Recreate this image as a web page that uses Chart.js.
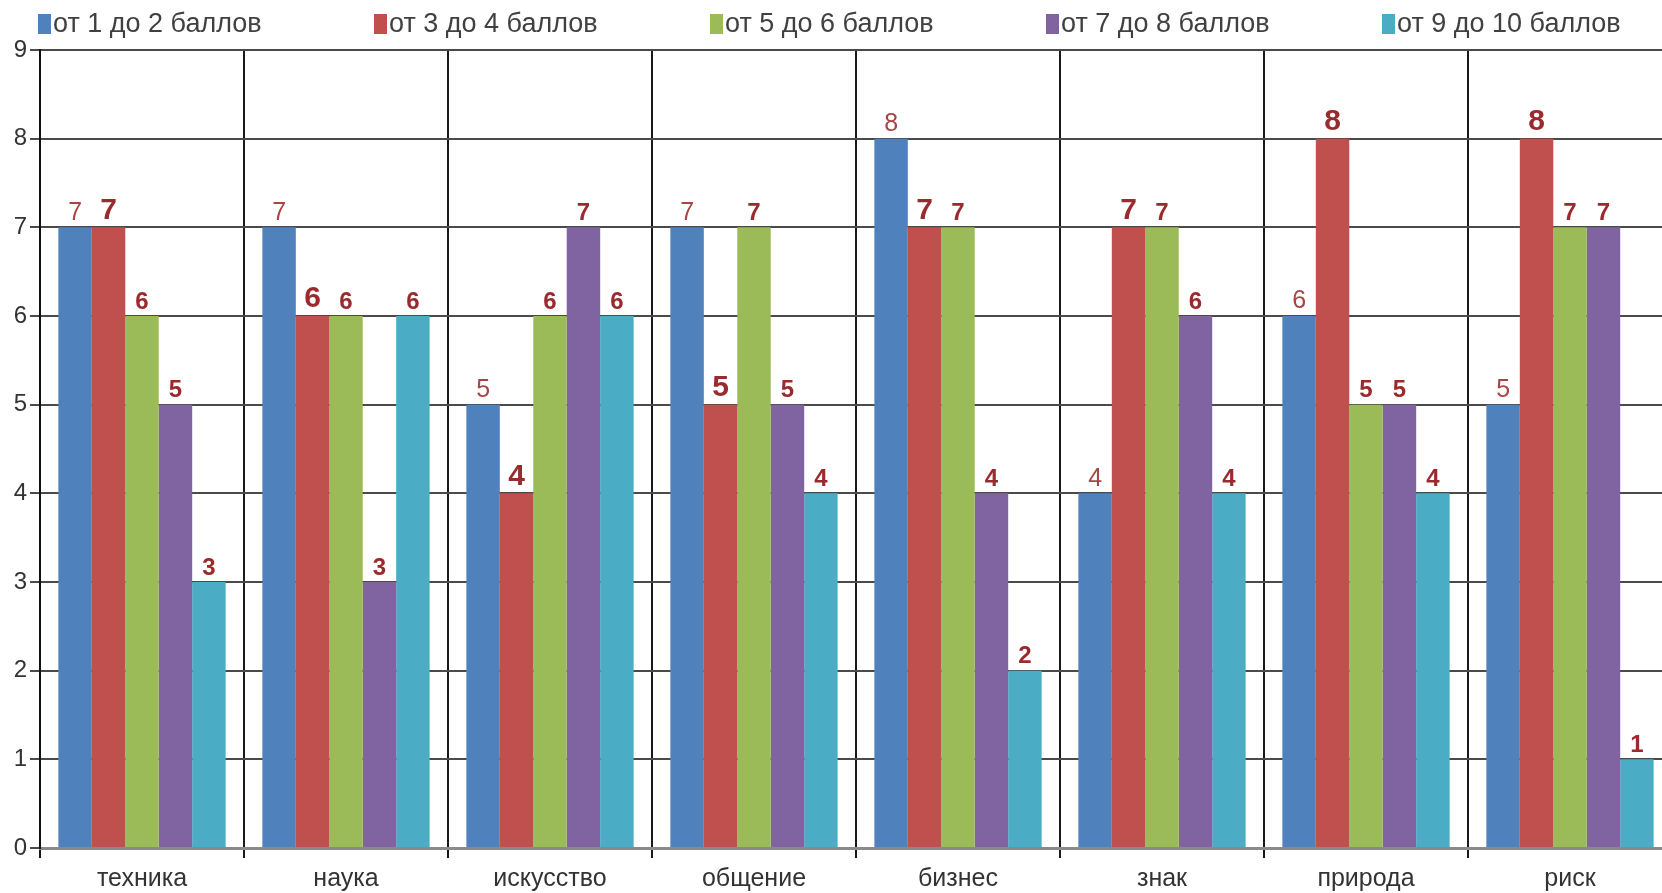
<!DOCTYPE html>
<html><head><meta charset="utf-8">
<script src="https://cdn.jsdelivr.net/npm/chart.js@4.4.1/dist/chart.umd.min.js"></script>
<style>
html,body{margin:0;padding:0;background:#fff;overflow:hidden;width:1662px;height:893px}
#wrap{position:absolute;left:0;top:0;width:1680px;height:893px}
</style></head>
<body><div id="wrap"><canvas id="c"></canvas></div>
<script>
const categories = ['техника','наука','искусство','общение','бизнес','знак','природа','риск'];
const seriesNames = ['от 1 до 2 баллов','от 3 до 4 баллов','от 5 до 6 баллов','от 7 до 8 баллов','от 9 до 10 баллов'];
const s1 = [7,7,5,7,8,4,6,5];
const s2 = [7,6,4,5,7,7,8,8];
const s3 = [6,6,6,7,7,7,5,7];
const s4 = [5,3,7,5,4,6,5,7];
const s5 = [3,6,6,4,2,4,4,1];
const yMin = 0, yMax = 9, yStep = 1;
const seriesColors = ['#4F81BD','#C0504D','#9BBB59','#8064A2','#4BACC6'];
const labelFonts = [
  {weight:'normal', size:25},
  {weight:'bold', size:30},
  {weight:'bold', size:24},
  {weight:'bold', size:24},
  {weight:'bold', size:24}
];
const FONT = "'Liberation Sans', Arial, sans-serif";

const valueLabels = {
  id:'valueLabels',
  afterDatasetsDraw(chart){
    const ctx = chart.ctx;
    ctx.save();
    ctx.textAlign='center';
    ctx.textBaseline='bottom';
    chart.data.datasets.forEach((ds,di)=>{
      const meta = chart.getDatasetMeta(di);
      const f = labelFonts[di];
      ctx.font = f.weight+' '+f.size+'px '+FONT;
      ctx.fillStyle = di===0 ? '#a84545' : '#9a2a2e';
      meta.data.forEach((bar,i)=>{
        ctx.fillText(String(ds.data[i]), bar.x, bar.y-2);
      });
    });
    ctx.restore();
  }
};

const customLegend = {
  id:'customLegend',
  afterDraw(chart){
    const ctx = chart.ctx;
    ctx.save();
    const step = chart.width/5;
    ctx.font = '27px '+FONT;
    ctx.textBaseline='middle';
    ctx.textAlign='left';
    chart.data.datasets.forEach((ds,i)=>{
      const x = 38 + i*step;
      ctx.fillStyle = ds.backgroundColor;
      ctx.fillRect(x, 14, 13, 20);
      ctx.fillStyle = '#404040';
      ctx.fillText(ds.label, x+15, 25);
    });
    ctx.restore();
  }
};

const datasets = [s1,s2,s3,s4,s5].map((d,i)=>({
  label: seriesNames[i],
  data: d,
  backgroundColor: seriesColors[i],
  borderWidth: 0,
  categoryPercentage: 0.82,
  barPercentage: 1.0
}));

new Chart(document.getElementById('c'), {
  type:'bar',
  data:{labels:categories, datasets},
  plugins:[valueLabels, customLegend],
  options:{
    responsive:true,
    maintainAspectRatio:false,
    animation:false,
    layout:{padding:{top:50,right:8,left:0,bottom:0}},
    plugins:{legend:{display:false}, tooltip:{enabled:false}},
    scales:{
      x:{
        offset:true,
        grid:{offset:true, color:'#1a1a1a', lineWidth:2, tickLength:10},
        border:{display:true, color:'#8a8a8a', width:3},
        ticks:{font:{size:25, family:FONT}, color:'#333', padding:6, maxRotation:0},
        afterFit(s){ s.height = 45; }
      },
      y:{
        min:yMin, max:yMax,
        grid:{color:'#4a4a4a', lineWidth:2, tickLength:10},
        border:{display:true, color:'#111', width:2},
        ticks:{stepSize:yStep, font:{size:24, family:FONT}, color:'#333', padding:3},
        afterFit(s){ s.width = 40; }
      }
    }
  }
});
</script>
</body></html>
